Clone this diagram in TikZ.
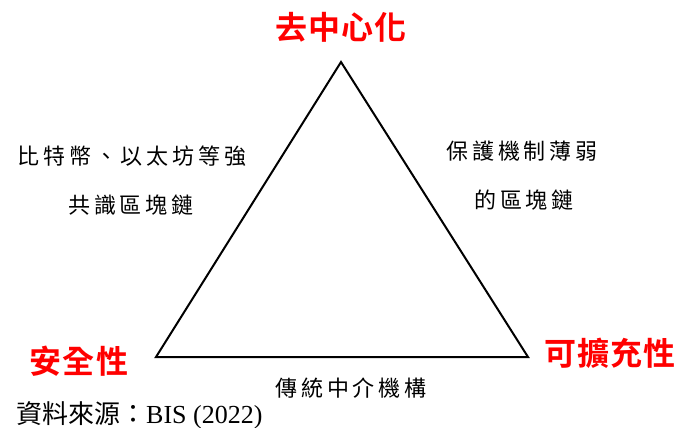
\documentclass[tikz,border=0pt]{standalone}
\usepackage{fontspec}
\setmainfont{Liberation Serif}
\newfontfamily\cjkblack[LetterSpace=18]{Noto Sans CJK TC}
\newfontfamily\cjkred[LetterSpace=4]{Noto Sans CJK TC Bold}
\newfontfamily\cjksrc{Noto Sans CJK TC}
\begin{document}
\begin{tikzpicture}[x=1pt,y=-1pt,
  redlbl/.style={text=red,inner sep=0pt,font=\cjkred\fontsize{32}{34}\selectfont},
  blklbl/.style={text=black,inner sep=0pt,font=\cjkblack\fontsize{22}{24}\selectfont},
  srclbl/.style={text=black,inner sep=0pt,anchor=west},
  tri/.style={draw=black,line width=2pt,line join=miter}]
\useasboundingbox[fill=white] (0,0) rectangle (678,428);
\coordinate (top) at (341,62);
\coordinate (bl) at (156,357);
\coordinate (br) at (528,357);
\draw[tri] (top) -- (bl) -- (br) -- cycle;
\node[redlbl] (dec) at (341,27) {去中心化};
\node[redlbl] (sec) at (79,361) {安全性};
\node[redlbl] (sca) at (610,353) {可擴充性};
\node[blklbl] (l1) at (132,156) {比特幣、以太坊等強};
\node[blklbl] (l2) at (131,205) {共識區塊鏈};
\node[blklbl] (r1) at (522,151) {保護機制薄弱};
\node[blklbl] (r2) at (524,200) {的區塊鏈};
\node[blklbl] (bot) at (351,388) {傳統中介機構};
\node[srclbl] (src) at (16,415) {\cjksrc\fontsize{26}{28}\selectfont 資料來源：\rmfamily BIS (2022)};
\end{tikzpicture}
\end{document}
